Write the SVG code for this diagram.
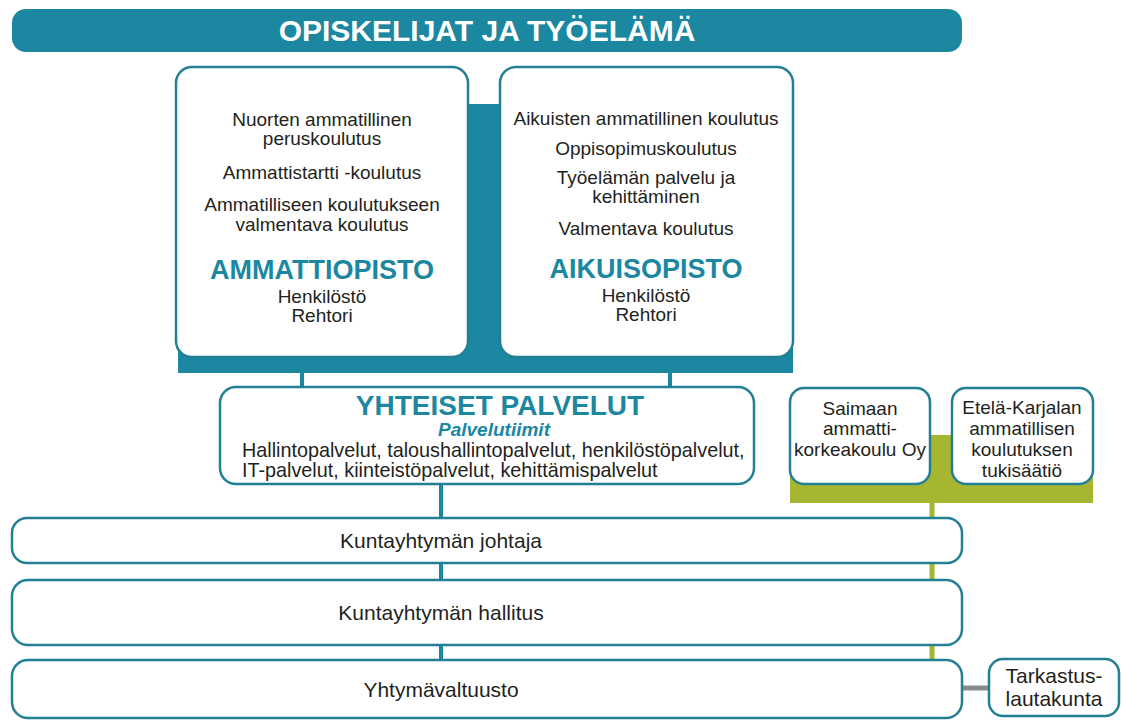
<svg xmlns="http://www.w3.org/2000/svg" width="1122" height="720" viewBox="0 0 1122 720">
<style>
.t{font-family:"Liberation Sans",Arial,Helvetica,sans-serif;fill:#231f20;text-anchor:middle}
.b19{font-size:19px}
.big{font-size:27px;font-weight:bold;fill:#1b87a0}
.box{fill:#fff;stroke:#237f94;stroke-width:2.5}
.tl{stroke:#1b87a0;stroke-width:4;fill:none}
</style>
<rect width="1122" height="720" fill="#fff"/>
<g id="banner">
<rect x="12" y="9" width="950" height="43" rx="14" fill="#1b87a0"/>
<text class="t" x="487" y="41" style="font-size:30px;font-weight:bold;fill:#fff">OPISKELIJAT JA TYÖELÄMÄ</text>
</g>
<g id="connectors">
<path d="M178 340H793V373H178Z M466 104H501V345H466Z" fill="#1b87a0"/>
<line class="tl" x1="302" y1="372" x2="302" y2="388"/>
<line class="tl" x1="670" y1="372" x2="670" y2="388"/>
<line class="tl" x1="441" y1="484" x2="441" y2="519"/>
<line class="tl" x1="441" y1="563" x2="441" y2="581"/>
<line class="tl" x1="441" y1="645" x2="441" y2="661"/>
<path d="M929 435H953V503H929Z M790 470H1093V503H790Z" fill="#a7b631"/>
<line x1="932" y1="502" x2="932" y2="661" stroke="#a7b631" stroke-width="5"/>
<line x1="962" y1="688" x2="990" y2="688" stroke="#8a8a8a" stroke-width="5"/>
</g>
<g id="ammattiopisto">
<rect class="box" x="176" y="67" width="292" height="290" rx="16"/>
<text class="t b19" x="322" y="126">Nuorten ammatillinen</text>
<text class="t b19" x="322" y="145">peruskoulutus</text>
<text class="t b19" x="322" y="179">Ammattistartti -koulutus</text>
<text class="t b19" x="322" y="211">Ammatilliseen koulutukseen</text>
<text class="t b19" x="322" y="231">valmentava koulutus</text>
<text class="t big" x="322" y="279">AMMATTIOPISTO</text>
<text class="t b19" x="322" y="303">Henkilöstö</text>
<text class="t b19" x="322" y="322">Rehtori</text>
</g>
<g id="aikuisopisto">
<rect class="box" x="500" y="67" width="293" height="290" rx="16"/>
<text class="t b19" x="646" y="125">Aikuisten ammatillinen koulutus</text>
<text class="t b19" x="646" y="155">Oppisopimuskoulutus</text>
<text class="t b19" x="646" y="184">Työelämän palvelu ja</text>
<text class="t b19" x="646" y="203">kehittäminen</text>
<text class="t b19" x="646" y="235">Valmentava koulutus</text>
<text class="t big" x="646" y="278">AIKUISOPISTO</text>
<text class="t b19" x="646" y="302">Henkilöstö</text>
<text class="t b19" x="646" y="321">Rehtori</text>
</g>
<g id="yhteiset">
<rect class="box" x="220" y="387" width="534" height="97" rx="16"/>
<text class="t big" x="500" y="415" style="font-size:28px">YHTEISET PALVELUT</text>
<text class="t" x="494" y="436" style="font-size:19px;font-style:italic;font-weight:bold;fill:#1b87a0">Palvelutiimit</text>
<text class="t" x="242" y="457" style="text-anchor:start;font-size:19.8px">Hallintopalvelut, taloushallintopalvelut, henkilöstöpalvelut,</text>
<text class="t" x="242" y="477" style="text-anchor:start;font-size:19.8px">IT-palvelut, kiinteistöpalvelut, kehittämispalvelut</text>
</g>
<g id="saimaan">
<rect class="box" x="790" y="388" width="140" height="96" rx="14"/>
<text class="t b19" x="860" y="415">Saimaan</text>
<text class="t b19" x="860" y="435">ammatti-</text>
<text class="t b19" x="860" y="456">korkeakoulu Oy</text>
</g>
<g id="tukisaatio">
<rect class="box" x="952" y="388" width="141" height="96" rx="14"/>
<text class="t b19" x="1022" y="414">Etelä-Karjalan</text>
<text class="t b19" x="1022" y="435">ammatillisen</text>
<text class="t b19" x="1022" y="456">koulutuksen</text>
<text class="t b19" x="1022" y="477">tukisäätiö</text>
</g>
<g id="johtaja">
<rect class="box" x="12" y="518" width="950" height="45" rx="15"/>
<text class="t" x="441" y="548" style="font-size:21px">Kuntayhtymän johtaja</text>
</g>
<g id="hallitus">
<rect class="box" x="12" y="580" width="950" height="65" rx="16"/>
<text class="t" x="441" y="620" style="font-size:21px">Kuntayhtymän hallitus</text>
</g>
<g id="valtuusto">
<rect class="box" x="12" y="660" width="950" height="58" rx="16"/>
<text class="t" x="441" y="697" style="font-size:21px">Yhtymävaltuusto</text>
</g>
<g id="tarkastus">
<rect class="box" x="989" y="659" width="130" height="57" rx="14"/>
<text class="t" x="1054" y="683" style="font-size:21px">Tarkastus-</text>
<text class="t" x="1054" y="706" style="font-size:21px">lautakunta</text>
</g>
</svg>
